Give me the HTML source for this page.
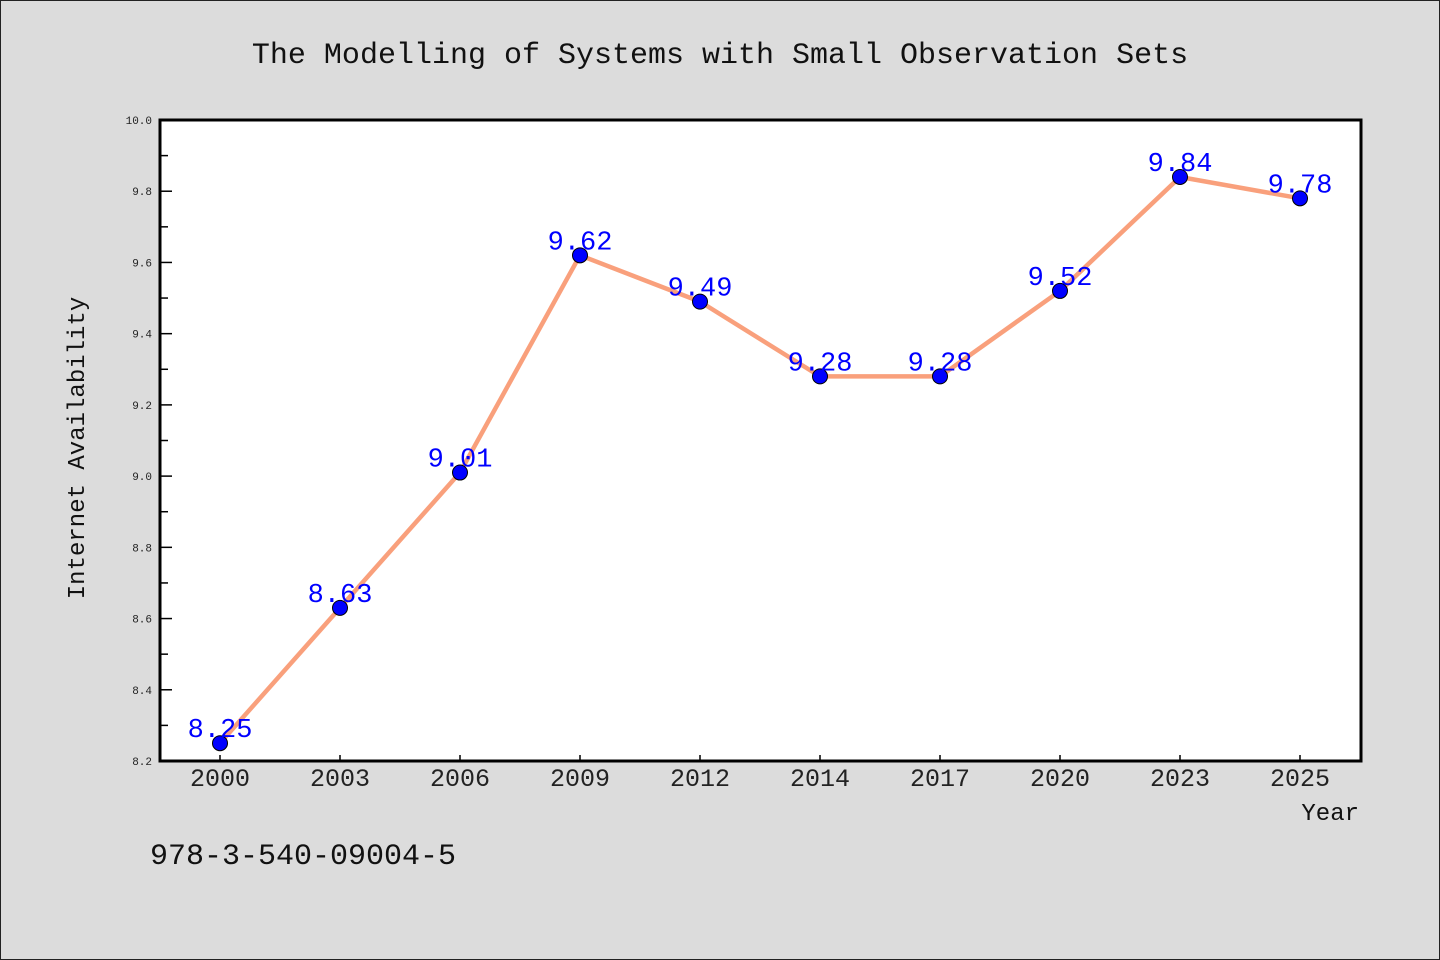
<!DOCTYPE html>
<html><head><meta charset="utf-8"><style>
body{margin:0;background:#dcdcdc;}
svg{display:block;font-family:"Liberation Mono","DejaVu Sans Mono",monospace;}
</style></head><body>
<svg id="c" width="1440" height="960">
<rect x="0.5" y="0.5" width="1439" height="959" fill="#dcdcdc" stroke="#222"/>
<text x="720" y="63" text-anchor="middle" font-size="30" fill="#111">The Modelling of Systems with Small Observation Sets</text>
<rect x="160" y="120" width="1201" height="641" fill="#fff"/>
<g id="axes"></g>
<path d="M160,120 H1361 V761 H160 Z" fill="none" stroke="#000" stroke-width="3"/>
<text transform="translate(84,448) rotate(-90)" text-anchor="middle" font-size="24" fill="#111">Internet Availability</text>
<text x="1359" y="820" text-anchor="end" font-size="24" fill="#111">Year</text>
<text x="150" y="864" font-size="30" fill="#111">978-3-540-09004-5</text>
<g id="series"></g>
</svg>
<script>
const categories=["2000","2003","2006","2009","2012","2014","2017","2020","2023","2025"];
const values=[8.25,8.63,9.01,9.62,9.49,9.28,9.28,9.52,9.84,9.78];
const yTicks=[8.2,8.4,8.6,8.8,9.0,9.2,9.4,9.6,9.8,10.0];
const yMin=8.2,yMax=10.0;
const NS="http://www.w3.org/2000/svg";
const X=i=>220+i*(1080/(categories.length-1));
const Y=v=>761-(v-yMin)/(yMax-yMin)*641;
function mk(t,a,p){const e=document.createElementNS(NS,t);for(const k in a)e.setAttribute(k,a[k]);p.appendChild(e);return e;}
const ax=document.getElementById('axes'),se=document.getElementById('series');
yTicks.forEach((v,i)=>{
  const l=mk('line',{x1:160,x2:172,y1:Y(v),y2:Y(v),stroke:'#000','stroke-width':1.5},ax);
  
  
  const t=mk('text',{x:152,y:Y(v)+4,'text-anchor':'end','font-size':11,fill:'#222'},ax);
  t.textContent=v.toFixed(1);
  
  
  if(i<yTicks.length-1){const m=mk('line',{x1:160,x2:168,y1:Y(v+0.1),y2:Y(v+0.1),stroke:'#000','stroke-width':1.5},ax);
  
  }
});
categories.forEach((c,i)=>{
  const l=mk('line',{x1:X(i),x2:X(i),y1:761,y2:755,stroke:'#000','stroke-width':1.5},ax);
  
  
  const t=mk('text',{x:X(i),y:786,'text-anchor':'middle','font-size':25,fill:'#222'},ax);
  t.textContent=c;
  
  
});
const pl=mk('polyline',{points:values.map((v,i)=>X(i)+','+Y(v)).join(' '),fill:'none',stroke:'#f9a07c','stroke-width':4.5,'stroke-linejoin':'round'},se);


values.forEach((v,i)=>{
  const c=mk('circle',{cx:X(i),cy:Y(v),r:7.5,fill:'#0000ff',stroke:'#000','stroke-width':1},se);
  
  
});
values.forEach((v,i)=>{
  const t=mk('text',{x:X(i),y:Y(v)-6,'text-anchor':'middle','font-size':27,fill:'#0000ff'},se);
  t.textContent=v.toFixed(2);
  
  
});
</script>
</body></html>
